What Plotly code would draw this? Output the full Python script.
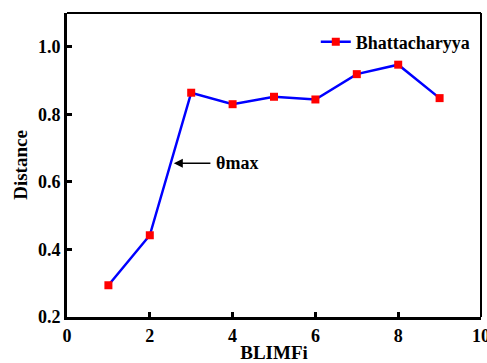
import plotly.graph_objects as go

x_vals = [1, 2, 3, 4, 5, 6, 7, 8, 9]
distance = [0.294, 0.442, 0.864, 0.830, 0.852, 0.844, 0.919, 0.947, 0.848]
series_name = "Bhattacharyya"
x_ticks = [0, 2, 4, 6, 8, 10]
y_ticks = [0.2, 0.4, 0.6, 0.8, 1.0]

font_family = "Liberation Serif"

def bold(size):
    return dict(family=font_family, size=size, color="black", weight="bold")

fig = go.Figure()
fig.add_trace(go.Scatter(
    x=x_vals, y=distance, mode="lines+markers", name=series_name,
    line=dict(color="#0000ff", width=2.5),
    marker=dict(symbol="square", color="#ff0000", size=8),
))

fig.add_annotation(
    x=2.58, y=0.655, ax=3.5, ay=0.655, xref="x", yref="y", axref="x", ayref="y",
    showarrow=True, arrowhead=2, arrowsize=1.2, arrowwidth=1.5, arrowcolor="black",
    text="",
)
fig.add_annotation(
    x=3.55, y=0.655, xref="x", yref="y", text="θmax", showarrow=False,
    xanchor="left", font=bold(18),
)

# top and right borders (thinner)
fig.add_shape(type="line", xref="paper", yref="paper", x0=0, x1=1, y0=1, y1=1,
              line=dict(color="black", width=2))
fig.add_shape(type="line", xref="paper", yref="paper", x0=1, x1=1, y0=0, y1=1,
              line=dict(color="black", width=2))

fig.update_layout(
    width=487, height=363,
    margin=dict(l=67, r=6, t=13, b=46, autoexpand=False),
    paper_bgcolor="white", plot_bgcolor="white",
    font=bold(16),
    showlegend=True,
    legend=dict(x=0.985, y=0.965, xanchor="right", yanchor="top",
                bgcolor="rgba(0,0,0,0)", font=bold(18)),
    xaxis=dict(
        range=[0, 10], tickvals=x_ticks, ticktext=[str(v) for v in x_ticks],
        showgrid=False, zeroline=False, showline=True, linecolor="black", linewidth=3,
        ticks="inside", ticklen=5, tickwidth=3, tickcolor="black",
        tickfont=bold(18), ticklabeloverflow="allow",
        title=dict(text="BLIMFi", font=bold(19), standoff=4),
    ),
    yaxis=dict(
        range=[0.2, 1.1], tickvals=y_ticks, ticktext=[f"{v:.1f}" for v in y_ticks],
        showgrid=False, zeroline=False, showline=True, linecolor="black", linewidth=3,
        ticks="inside", ticklen=5, tickwidth=3, tickcolor="black",
        tickfont=bold(18),
        title=dict(text="Distance", font=bold(19), standoff=6),
    ),
)

fig.write_html("out.html", config={"displayModeBar": False},
               post_script="document.body.style.margin='0';")
